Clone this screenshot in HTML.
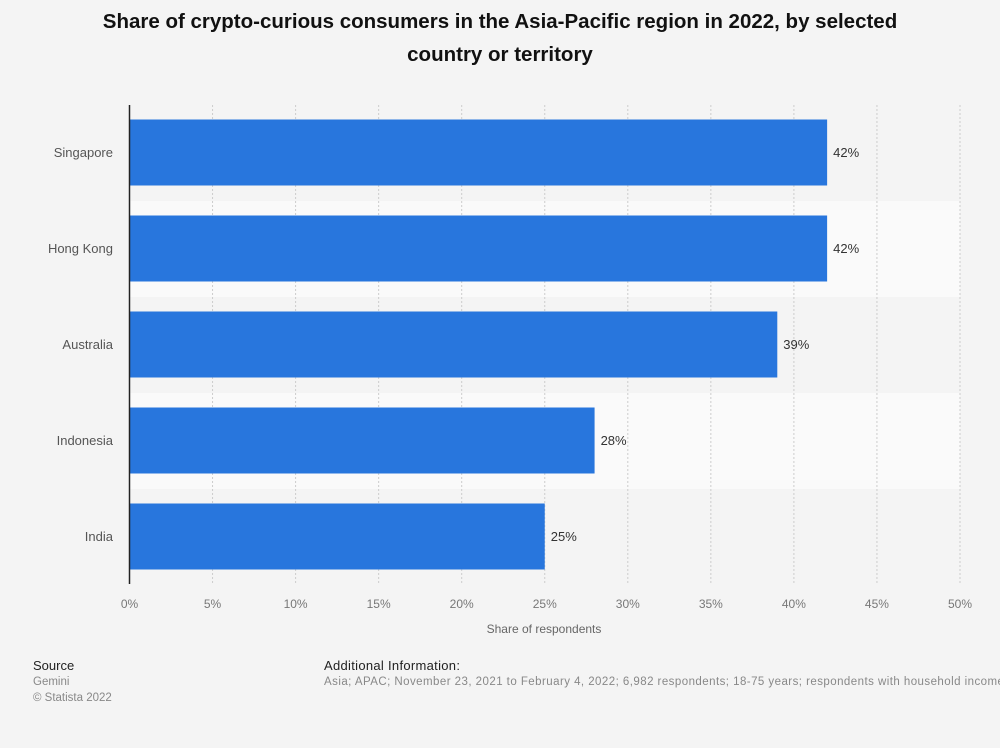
<!DOCTYPE html>
<html><head><meta charset="utf-8"><style>
body{margin:0;background:#f4f4f4;font-family:"Liberation Sans",sans-serif;}
</style></head><body>
<svg width="1000" height="743" xmlns="http://www.w3.org/2000/svg">
<rect width="1000" height="743" fill="#f4f4f4"/>
<text x="500" y="28" text-anchor="middle" font-size="20.5" font-weight="bold" fill="#111">Share of crypto-curious consumers in the Asia-Pacific region in 2022, by selected</text>
<text x="500" y="61" text-anchor="middle" font-size="20.5" font-weight="bold" fill="#111">country or territory</text>
<g id="bands"></g><g id="grid"></g><g id="bars"></g><g id="xt"></g>
<line x1="129.5" y1="105" x2="129.5" y2="584" stroke="#222" stroke-width="1.5"/>
<text x="544" y="633" text-anchor="middle" font-size="12" fill="#666">Share of respondents</text>
<text x="33" y="670" font-size="13" fill="#222">Source</text>
<text x="33" y="685" font-size="11.5" fill="#888">Gemini</text>
<text x="33" y="701" font-size="11.5" fill="#888">© Statista 2022</text>
<text x="324" y="670" font-size="13" fill="#222" letter-spacing="0.3">Additional Information:</text>
<text x="324" y="685" font-size="11.5" fill="#888" letter-spacing="0.45">Asia; APAC; November 23, 2021 to February 4, 2022; 6,982 respondents; 18-75 years; respondents with household income</text>
</svg>
<script>
const categories=["Singapore","Hong Kong","Australia","Indonesia","India"];
const values=[42,42,39,28,25];
const ticks=[0,5,10,15,20,25,30,35,40,45,50];
const NS="http://www.w3.org/2000/svg";
const x0=129.5,x1=960,yTop=105,band=96,xmax=50;
const xs=v=>x0+(x1-x0)*v/xmax;
function mk(t,a,p){const e=document.createElementNS(NS,t);for(const k in a)e.setAttribute(k,a[k]);document.getElementById(p).appendChild(e);return e;}
categories.forEach((c,i)=>{
 const y=yTop+i*band;
 const b=mk('rect',{x:x0,y:y,width:x1-x0,height:band,fill:i%2?'#fafafa':'#f4f4f4'},'bands');
 
 
 const r=mk('rect',{x:x0,y:y+14.5,width:xs(values[i])-x0,height:66,fill:'#2876dd'},'bars');
 
 
 const l=mk('text',{x:xs(values[i])+6,y:y+52,'font-size':13,fill:'#333'},'bars');
 l.textContent=values[i]+'%';
 
 
 const cl=mk('text',{x:113,y:y+52,'font-size':13,fill:'#555','text-anchor':'end'},'bars');
 cl.textContent=c;
 
 
});
ticks.forEach(t=>{
 if(t>0){const g=mk('line',{x1:xs(t),x2:xs(t),y1:yTop,y2:584,stroke:'#ccc','stroke-dasharray':'2,2'},'grid');
 
 }
 const tl=mk('text',{x:xs(t),y:608,'font-size':12,fill:'#777','text-anchor':'middle'},'xt');
 tl.textContent=t+'%';
 
 
});
</script>
</body></html>
